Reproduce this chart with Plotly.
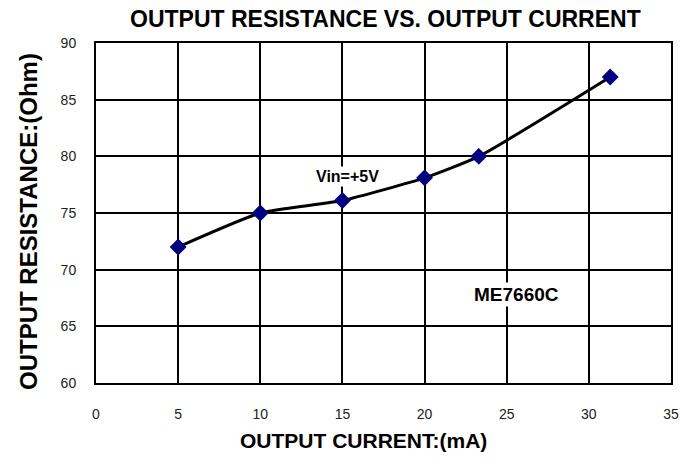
import plotly.graph_objects as go

current_ma = [5, 10, 15, 20, 23.3, 31.3]
resistance_ohm = [72, 75, 76.1, 78.1, 80, 87]
x_ticks = [0, 5, 10, 15, 20, 25, 30, 35]
y_ticks = [60, 65, 70, 75, 80, 85, 90]

# page body has an 8px margin; plot area target (page px): left 96, right 671, top 43, bottom 383
W, H = 685, 456
L, R, T, B = 88, 22, 35, 81
PW, PH = W - L - R, H - T - B

fig = go.Figure()
fig.add_trace(go.Scatter(
    x=current_ma, y=resistance_ohm, mode="lines+markers",
    line=dict(color="black", width=3, shape="spline", smoothing=0.5),
    marker=dict(symbol="diamond", size=13, color="#000080"),
    showlegend=False,
))

axis_common = dict(
    showgrid=True, gridcolor="black", gridwidth=2,
    showline=True, linecolor="black", linewidth=2, mirror=True,
    zeroline=False, ticks="", tickfont=dict(family="Liberation Sans", size=14, color="#222222"),
)
fig.update_xaxes(range=[0, 35], tickvals=x_ticks, ticklabelstandoff=17, **axis_common)
fig.update_yaxes(range=[60, 90], tickvals=y_ticks, ticklabelstandoff=15, **axis_common)

def px_x(p):
    return (p - 8 - L) / PW

def px_y(p):
    return (H - B - (p - 8)) / PH

fig.update_layout(
    width=W, height=H,
    margin=dict(l=L, r=R, t=T, b=B),
    paper_bgcolor="white", plot_bgcolor="white",
    annotations=[
        dict(text="<b>OUTPUT RESISTANCE VS. OUTPUT CURRENT</b>", xref="paper", yref="paper",
             x=px_x(385), y=px_y(19), xanchor="center", yanchor="middle",
             showarrow=False, font=dict(family="Liberation Sans", size=23, color="black")),
        dict(text="<b>OUTPUT CURRENT:(mA)</b>", xref="paper", yref="paper",
             x=px_x(363), y=px_y(440), xanchor="center", yanchor="middle",
             showarrow=False, font=dict(family="Liberation Sans", size=21, color="black")),
        dict(text="<b>OUTPUT RESISTANCE:(Ohm)</b>", xref="paper", yref="paper",
             x=px_x(28), y=px_y(222), xanchor="center", yanchor="middle",
             textangle=-90, showarrow=False,
             font=dict(family="Liberation Sans", size=24, color="black")),
        dict(text="<b>Vin=+5V</b>", x=15.3, y=78.25, showarrow=False,
             bgcolor="white",
             font=dict(family="Liberation Sans", size=16, color="black")),
        dict(text="<b>ME7660C</b>", x=25.6, y=67.8, showarrow=False,
             bgcolor="white",
             font=dict(family="Liberation Sans", size=19, color="black")),
    ],
)
fig.write_html("out.html")
